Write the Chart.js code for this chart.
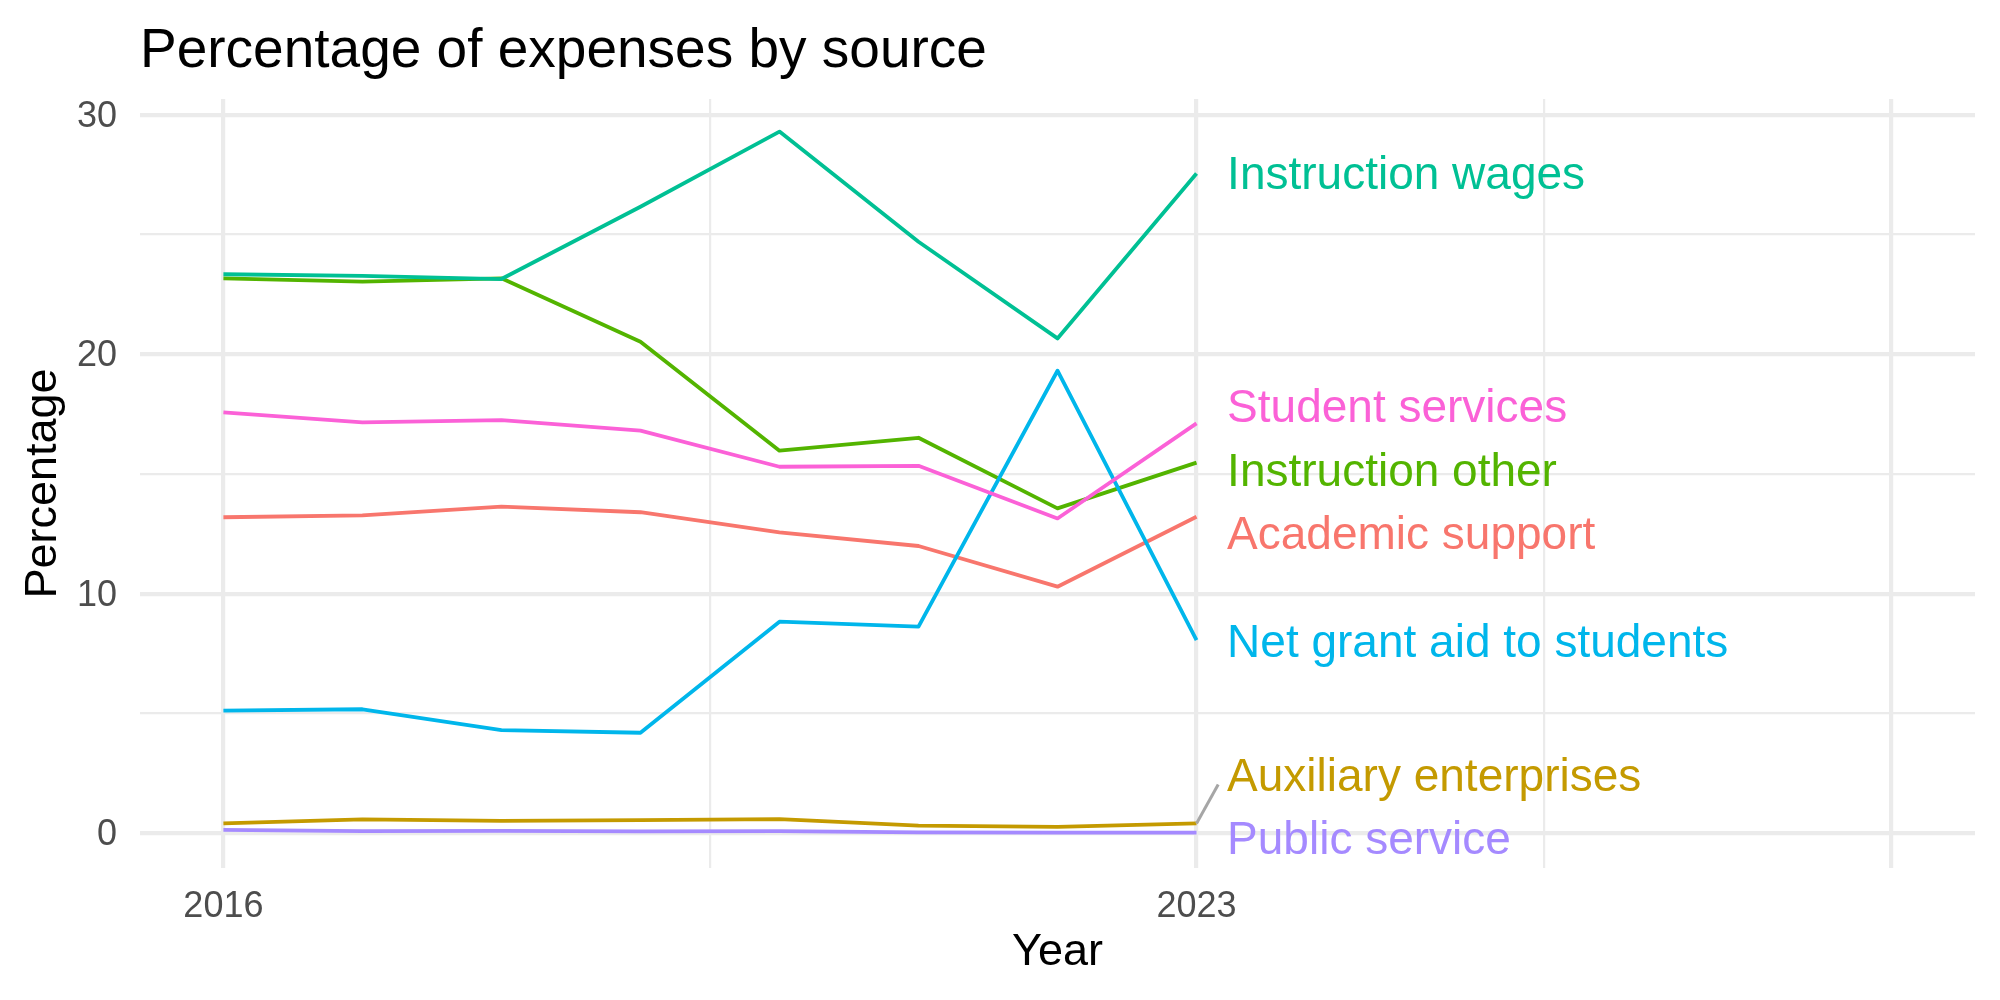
<!DOCTYPE html>
<html>
<head>
<meta charset="utf-8">
<script src="https://cdn.jsdelivr.net/npm/chart.js@4/dist/chart.umd.min.js"></script>
<style>
  html, body { margin: 0; padding: 0; background: #ffffff; }
  #wrap { width: 2000px; height: 1000px; }
</style>
</head>
<body>
<div id="wrap"><canvas id="c" width="2000" height="1000"></canvas></div>
<script>
// ---- Data ----
const years = [2016, 2017, 2018, 2019, 2020, 2021, 2022, 2023];

const seriesNames = [
  "Academic support",
  "Auxiliary enterprises",
  "Instruction other",
  "Instruction wages",
  "Net grant aid to students",
  "Public service",
  "Student services"
];

const academicSupport      = [13.19, 13.27, 13.63, 13.40, 12.56, 11.99, 10.29, 13.21];
const auxiliaryEnterprises = [0.40, 0.57, 0.51, 0.54, 0.58, 0.31, 0.26, 0.40];
const instructionOther     = [23.17, 23.03, 23.17, 20.52, 15.97, 16.51, 13.56, 15.47];
const instructionWages     = [23.34, 23.27, 23.14, 26.16, 29.30, 24.70, 20.66, 27.55];
const netGrantAid          = [5.11, 5.17, 4.30, 4.19, 8.83, 8.62, 19.31, 8.06];
const publicService        = [0.13, 0.08, 0.09, 0.07, 0.08, 0.03, 0.02, 0.02];
const studentServices      = [17.57, 17.15, 17.25, 16.81, 15.30, 15.34, 13.14, 17.11];

const seriesValues = [academicSupport, auxiliaryEnterprises, instructionOther,
  instructionWages, netGrantAid, publicService, studentServices];

const seriesColors = ["#F8766D", "#C49A00", "#53B400", "#00C094", "#00B6EB", "#A58AFF", "#FB61D7"];

// direct-label positions (data units), repelled like the original
const labelX = 2023.22;
const labelYs = [12.57, 2.46, 15.19, 27.57, 8.05, -0.17, 17.86];
// repel connector for "Auxiliary enterprises" (end point, data units)
const connectorEnd = { x: 2023.156, y: 2.03 };

// axis ticks
const xGridValues = [2016, 2019.5, 2023, 2025.5, 2028];
const xMinorValues = [2019.5, 2025.5];
const xTickLabels = [2016, 2023];
const yGridValues = [0, 5, 10, 15, 20, 25, 30];
const yMinorValues = [5, 15, 25];
const yTickLabels = [0, 10, 20, 30];

const FONT = '"Liberation Sans", Arial, Helvetica, sans-serif';
const LABEL_SIZE = 46;

// ---- Build datasets ----
const datasets = seriesNames.map((name, i) => ({
  label: name,
  data: years.map((yr, j) => ({ x: yr, y: seriesValues[i][j] })),
  borderColor: seriesColors[i],
  backgroundColor: seriesColors[i],
  borderWidth: 3.8,
  pointRadius: 0,
  tension: 0,
  fill: false,
  borderJoinStyle: 'round',
  order: seriesNames.length - i   // later series drawn on top, like ggplot
}));

datasets.push({
  label: "connector",
  data: [
    { x: years[years.length - 1], y: auxiliaryEnterprises[auxiliaryEnterprises.length - 1] },
    connectorEnd
  ],
  borderColor: "#A6A6A6",
  borderWidth: 3,
  pointRadius: 0,
  fill: false,
  order: 0
});

const directLabels = {
  id: 'directLabels',
  afterDatasetsDraw(chart) {
    const { ctx, scales: { x, y } } = chart;
    ctx.save();
    ctx.font = `${LABEL_SIZE}px ${FONT}`;
    ctx.textAlign = 'left';
    ctx.textBaseline = 'alphabetic';
    seriesNames.forEach((name, i) => {
      ctx.fillStyle = seriesColors[i];
      // label y is the centre of the capital letters
      ctx.fillText(name, x.getPixelForValue(labelX),
        y.getPixelForValue(labelYs[i]) + 0.358 * LABEL_SIZE);
    });
    ctx.restore();
  }
};

new Chart(document.getElementById('c'), {
  type: 'line',
  data: { datasets },
  plugins: [directLabels],
  options: {
    responsive: false,
    animation: false,
    devicePixelRatio: 1,
    layout: { padding: { left: 0, right: 25, top: 0, bottom: 0 } },
    plugins: {
      legend: { display: false },
      tooltip: { enabled: false },
      title: {
        display: true,
        text: 'Percentage of expenses by source',
        align: 'start',
        fullSize: false,
        color: '#000000',
        font: { family: FONT, size: 55, weight: 'normal' },
        padding: { top: 19, bottom: 14 }
      }
    },
    scales: {
      x: {
        type: 'linear',
        min: 2015.4,
        max: 2028.6,
        afterBuildTicks: (scale) => { scale.ticks = xGridValues.map(v => ({ value: v })); },
        afterFit: (scale) => { scale.height = 132; },
        ticks: {
          autoSkip: false,
          maxRotation: 0,
          padding: 17,
          color: '#4D4D4D',
          font: { family: FONT, size: 36 },
          callback: (value) => xTickLabels.includes(value) ? String(value) : ''
        },
        grid: {
          drawTicks: false,
          color: '#EBEBEB',
          lineWidth: (ctx) => (ctx.tick && xMinorValues.includes(ctx.tick.value)) ? 2.2 : 4.2
        },
        border: { display: false },
        title: {
          display: true,
          text: 'Year',
          color: '#000000',
          font: { family: FONT, size: 45 },
          padding: { top: 0, bottom: 20 }
        }
      },
      y: {
        type: 'linear',
        min: -1.46,
        max: 30.66,
        afterBuildTicks: (scale) => { scale.ticks = yGridValues.map(v => ({ value: v })); },
        afterFit: (scale) => { scale.width = 140; },
        ticks: {
          padding: 23,
          labelOffset: 2,
          color: '#4D4D4D',
          font: { family: FONT, size: 36 },
          callback: (value) => yTickLabels.includes(value) ? String(value) : ''
        },
        grid: {
          drawTicks: false,
          color: '#EBEBEB',
          lineWidth: (ctx) => (ctx.tick && yMinorValues.includes(ctx.tick.value)) ? 2.2 : 4.2
        },
        border: { display: false },
        title: {
          display: true,
          text: 'Percentage',
          color: '#000000',
          font: { family: FONT, size: 45 },
          padding: { top: 16.5, bottom: 0 }
        }
      }
    }
  }
});
</script>
</body>
</html>
